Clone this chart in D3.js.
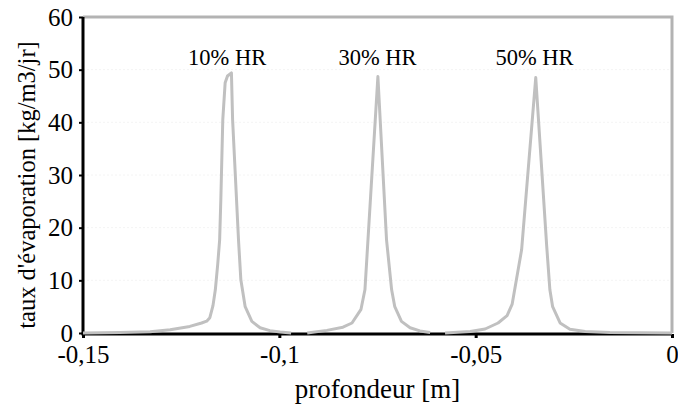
<!DOCTYPE html>
<html>
<head>
<meta charset="utf-8">
<script src="https://cdn.jsdelivr.net/npm/d3@7"></script>
</head>
<body style="margin:0">
<svg id="chart" width="678" height="408" style="display:block"></svg>
<script>
// Evaporation rate profiles vs depth for three relative humidities
const profondeur10 = [-0.1500,-0.1406,-0.1329,-0.1278,-0.1228,-0.1198,-0.1185,-0.1177,-0.1169,-0.1163,-0.1157,-0.1152,-0.1149,-0.1144,-0.1138,-0.1132,-0.1122,-0.1119,-0.1104,-0.1098,-0.1087,-0.1070,-0.1049,-0.1024,-0.0998,-0.0970];
const taux10       = [0,0.1,0.25,0.6,1.25,1.9,2.25,2.9,5.2,8.2,13.0,17.7,25.3,40.5,47.5,48.8,49.4,40.5,17.7,10.1,5.0,2.2,1.0,0.45,0.2,0];

const profondeur30 = [-0.0929,-0.0879,-0.0838,-0.0815,-0.0792,-0.0782,-0.0749,-0.0727,-0.0714,-0.0706,-0.0689,-0.0667,-0.0642,-0.0616];
const taux30       = [0,0.5,1.1,1.9,4.5,8.2,48.7,17.7,8.2,5.0,2.2,1.0,0.4,0.1];

const profondeur50 = [-0.0578,-0.0514,-0.0476,-0.0443,-0.0420,-0.0407,-0.0383,-0.0347,-0.0319,-0.0311,-0.0304,-0.0285,-0.0260,-0.0221,-0.0158,0];
const taux50       = [0,0.3,0.76,1.9,3.3,5.5,15.8,48.5,16.4,8.2,5.0,1.9,0.7,0.3,0.1,0];

const seriesLabels = ["10% HR", "30% HR", "50% HR"];
const labelX = [-0.1133, -0.0750, -0.0350];
const labelY = 50.9;

const xTicks = [-0.15, -0.1, -0.05, 0];
const xTickLabels = ["-0,15", "-0,1", "-0,05", "0"];
const yTicks = [0, 10, 20, 30, 40, 50, 60];

const xTitle = "profondeur [m]";
const yTitle = "taux d'évaporation [kg/m3/jr]";

const W = 678, H = 408;
const margin = { top: 17, right: 6, bottom: 75, left: 83 };
const FONT = '"Liberation Serif", monospace';

const svg = d3.select("#chart");

const x = d3.scaleLinear().domain([-0.15, 0]).range([margin.left, W - margin.right]);
const y = d3.scaleLinear().domain([0, 60]).range([H - margin.bottom, margin.top]);

// faint horizontal gridlines
svg.append("g")
  .selectAll("line")
  .data(yTicks.filter(d => d > 0 && d < 60))
  .join("line")
  .attr("x1", x(-0.15)).attr("x2", x(0))
  .attr("y1", d => y(d)).attr("y2", d => y(d))
  .attr("stroke", "#f4f4f4")
  .attr("stroke-width", 1)
  .attr("stroke-dasharray", "2,2");

// grey frame on top and right
svg.append("path")
  .attr("d", `M${x(-0.15)},${y(60)} H${x(0)} V${y(0)}`)
  .attr("fill", "none")
  .attr("stroke", "#b3b3b3")
  .attr("stroke-width", 3);

// y axis
const yAxis = d3.axisLeft(y).tickValues(yTicks).tickSize(4).tickPadding(6).tickFormat(d3.format("d"));
const gy = svg.append("g").attr("transform", `translate(${x(-0.15)},0)`).call(yAxis);
gy.attr("font-family", "Liberation Serif").attr("font-size", 25);
gy.select(".domain").attr("stroke", "#000").attr("stroke-width", 3).attr("d", `M0,${y(60)}V${y(0) + 1.5}`);
gy.selectAll(".tick line").attr("stroke", "#000").attr("stroke-width", 2);
gy.selectAll(".tick text")
  .style("font-family", FONT).style("font-size", "25px").attr("fill", "#000");

// x axis
const xAxis = d3.axisBottom(x).tickValues(xTicks).tickSize(4).tickPadding(7)
  .tickFormat((d, i) => xTickLabels[i]);
const gx = svg.append("g").attr("transform", `translate(0,${y(0) + 1})`).call(xAxis);
gx.attr("font-family", "Liberation Serif").attr("font-size", 25);
gx.select(".domain").attr("stroke", "#000").attr("stroke-width", 3).attr("d", `M${x(-0.15) - 1.5},0H${x(0)}`);
gx.selectAll(".tick line").attr("stroke", "#000").attr("stroke-width", 3);
gx.selectAll(".tick text")
  .style("font-family", FONT).style("font-size", "25px").attr("fill", "#000");

// curves
const line = d3.line().x(d => x(d[0])).y(d => y(d[1]));
const series = [
  d3.zip(profondeur10, taux10),
  d3.zip(profondeur30, taux30),
  d3.zip(profondeur50, taux50)
];
svg.append("g")
  .selectAll("path")
  .data(series)
  .join("path")
  .attr("d", line)
  .attr("fill", "none")
  .attr("stroke", "#c0c0c0")
  .attr("stroke-width", 3)
  .attr("stroke-linejoin", "round");

// peak labels
svg.append("g")
  .selectAll("text")
  .data(seriesLabels)
  .join("text")
  .attr("x", (d, i) => x(labelX[i]))
  .attr("y", y(labelY))
  .attr("text-anchor", "middle")
  .style("font-family", FONT).style("font-size", "22.5px")
  .attr("fill", "#000")
  .text(d => d);

// axis titles
svg.append("text")
  .attr("x", (x(-0.15) + x(0)) / 2)
  .attr("y", 398)
  .attr("text-anchor", "middle")
  .style("font-family", FONT).style("font-size", "27px")
  .attr("fill", "#000")
  .text(xTitle);

svg.append("text")
  .attr("transform", "translate(35,185) rotate(-90)")
  .attr("text-anchor", "middle")
  .style("font-family", FONT).style("font-size", "24.5px")
  .attr("fill", "#000")
  .text(yTitle);
</script>
</body>
</html>
